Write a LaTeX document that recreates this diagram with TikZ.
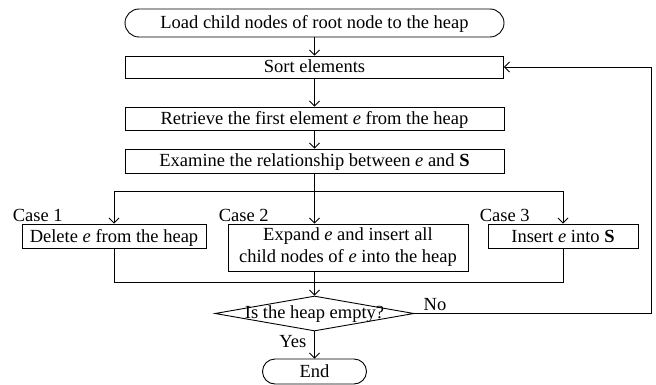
\documentclass[tikz,border=0pt]{standalone}
\usepackage{fontspec}
\setmainfont{Liberation Serif}
\usetikzlibrary{arrows.meta,shapes.geometric}
\begin{document}
\begin{tikzpicture}[x=1pt,y=-1pt,
  every node/.style={font=\fontsize{18.5}{22}\selectfont},
  line/.style={line width=0.9pt},
  arr/.style={line width=0.9pt,-{Straight Barb[length=5pt,width=10pt,line width=0.9pt]}},
  procbox/.style={draw,line width=0.9pt,rectangle,inner sep=0pt,text height=14pt,text depth=2pt},
  termbox/.style={draw,line width=0.9pt,rectangle,inner sep=0pt,text height=14pt,text depth=2pt},
  caselabel/.style={anchor=base west,inner sep=0pt}]
\useasboundingbox (0,0) rectangle (656,385);
% main column
\node[termbox,rounded corners=14pt,minimum width=379pt,minimum height=28pt] (load) at (314.5,23) {Load child nodes of root node to the heap};
\node[procbox,minimum width=378pt,minimum height=22pt] (sort) at (314.5,67) {Sort elements};
\node[procbox,minimum width=379pt,minimum height=23pt] (retr) at (314.5,118.5) {Retrieve the first element \textit{e} from the heap};
\node[procbox,minimum width=379pt,minimum height=24pt] (exam) at (314.5,161) {Examine the relationship between \textit{e} and \textbf{S}};
% cases
\node[procbox,minimum width=184pt,minimum height=24pt] (c1) at (114,236) {Delete \textit{e} from the heap};
\node[draw,line width=0.9pt,inner sep=0pt,align=center,minimum width=240pt,minimum height=47pt] (c2) at (348,247.5) {Expand \textit{e} and insert all\\child nodes of \textit{e} into the heap};
\node[procbox,minimum width=150pt,minimum height=24pt] (c3) at (563,236) {Insert \textit{e} into \textbf{S}};
\node[caselabel] (l1) at ([xshift=-9pt,yshift=2pt]c1.north west) {Case 1};
\node[caselabel] (l2) at ([xshift=-9pt,yshift=2pt]c2.north west) {Case 2};
\node[caselabel] (l3) at ([xshift=-8pt,yshift=2pt]c3.north west) {Case 3};
% decision
\node[diamond,draw,line width=0.9pt,inner sep=0pt,minimum width=199pt,minimum height=35pt] (dia) at (314.5,313.5) {};
\node[inner sep=0pt] (diatext) at (314.5,314) {Is the heap empty?};
\node[termbox,rounded corners=12.5pt,minimum width=104pt,minimum height=25pt] (end) at (314.5,371.5) {End};
\node[anchor=base west,inner sep=0pt] (no) at ([xshift=9pt,yshift=3pt]dia.east) {No};
\node[anchor=base east,inner sep=0pt] (yes) at ([xshift=-8pt,yshift=-16pt]dia.south) {Yes};
% junction coordinates
\coordinate (sl) at (114,191);
\coordinate (sr) at (563,191);
\coordinate (ml) at (114,282);
\coordinate (mr) at (563,282);
\coordinate (loopx) at (651,0);
% connectors
\draw[arr] (load.south) -- (sort.north);
\draw[arr] (sort.south) -- (retr.north);
\draw[arr] (retr.south) -- (exam.north);
\draw[line] (exam.south) -- (exam.south |- sl);
\draw[line] (sl) -- (sr);
\draw[arr] (sl) -- (c1.north);
\draw[arr] (exam.south |- sl) -- (exam.south |- c2.north);
\draw[arr] (sr) -- (c3.north);
\draw[line] (c1.south) -- (ml) -- (mr) -- (c3.south);
\draw[arr] (dia.north |- c2.south) -- (dia.north);
\draw[arr] (dia.east) -- (loopx |- dia.east) -- (loopx |- sort.east) -- (sort.east);
\draw[arr] (dia.south) -- (end.north);
\end{tikzpicture}
\end{document}
